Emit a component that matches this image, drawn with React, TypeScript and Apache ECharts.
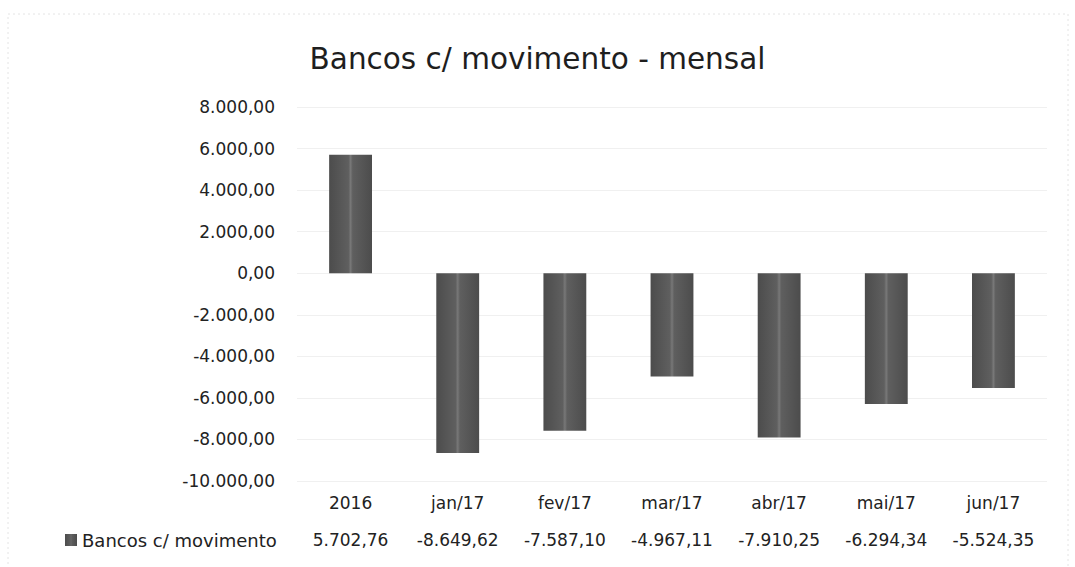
import React, { useEffect, useRef } from "react";
import * as echarts from "echarts";

const categories = ["2016", "jan/17", "fev/17", "mar/17", "abr/17", "mai/17", "jun/17"];
const values = [5702.76, -8649.62, -7587.1, -4967.11, -7910.25, -6294.34, -5524.35];
const seriesName = "Bancos c/ movimento";
const titleText = "Bancos c/ movimento - mensal";

function fmtBR(v: number): string {
  const neg = v < 0;
  const abs = Math.abs(v);
  const [intPart, dec] = abs.toFixed(2).split(".");
  const withDots = intPart.replace(/\B(?=(\d{3})+(?!\d))/g, ".");
  return (neg ? "-" : "") + withDots + "," + dec;
}

const FONT = "'DejaVu Sans', 'Noto Sans', sans-serif";

export default function App() {
  const ref = useRef<HTMLDivElement>(null);
  useEffect(() => {
    if (!ref.current) return;
    const chart = echarts.init(ref.current, undefined, { renderer: "svg" });
    chart.setOption({
      animation: false,
      backgroundColor: "#ffffff",
      title: {
        text: titleText,
        left: "center",
        top: 39,
        textStyle: { fontFamily: FONT, fontSize: 29.5, fontWeight: "normal", color: "#1e1e1e" },
      },
      graphic: [
        {
          type: "rect",
          silent: true,
          shape: { x: 8, y: 14, width: 1060, height: 560 },
          style: { fill: "none", stroke: "#e4e4e4", lineWidth: 1, lineDash: [2, 3] },
        },
      ],
      legend: {
        left: 60,
        top: 526,
        icon: "rect",
        itemWidth: 12,
        itemHeight: 12,
        itemGap: 4,
        textStyle: { fontFamily: FONT, fontSize: 18, color: "#222" },
        data: [seriesName],
      },
      grid: { left: 297, right: 28, top: 107, bottom: 86 },
      xAxis: {
        type: "category",
        data: categories,
        axisLine: { show: false, onZero: false },
        axisTick: { show: false },
        axisLabel: {
          margin: 3,
          interval: 0,
          formatter: (val: string, idx: number) => `{c|${val}}\n{v|${fmtBR(values[idx])}}`,
          rich: {
            c: { fontFamily: FONT, fontSize: 17, color: "#222", lineHeight: 37 },
            v: { fontFamily: FONT, fontSize: 17, color: "#222", lineHeight: 37 },
          },
        },
      },
      yAxis: {
        type: "value",
        min: -10000,
        max: 8000,
        interval: 2000,
        axisLine: { show: false },
        axisTick: { show: false },
        splitLine: { lineStyle: { color: "#f0f0f0" } },
        axisLabel: {
          margin: 22,
          fontFamily: FONT,
          fontSize: 17,
          color: "#222",
          formatter: (v: number) => fmtBR(v),
        },
      },
      series: [
        {
          name: seriesName,
          type: "bar",
          data: values,
          barWidth: "40%",
          itemStyle: {
            color: new echarts.graphic.LinearGradient(0, 0, 1, 0, [
              { offset: 0, color: "#4c4c4c" },
              { offset: 0.45, color: "#5f5f5f" },
              { offset: 0.5, color: "#787878" },
              { offset: 0.55, color: "#5f5f5f" },
              { offset: 1, color: "#4c4c4c" },
            ]),
          },
        },
      ],
    });
    return () => chart.dispose();
  }, []);
  return (
    <div
      ref={ref}
      style={{ position: "fixed", left: 0, top: 0, width: 1075, height: 567 }}
    />
  );
}
